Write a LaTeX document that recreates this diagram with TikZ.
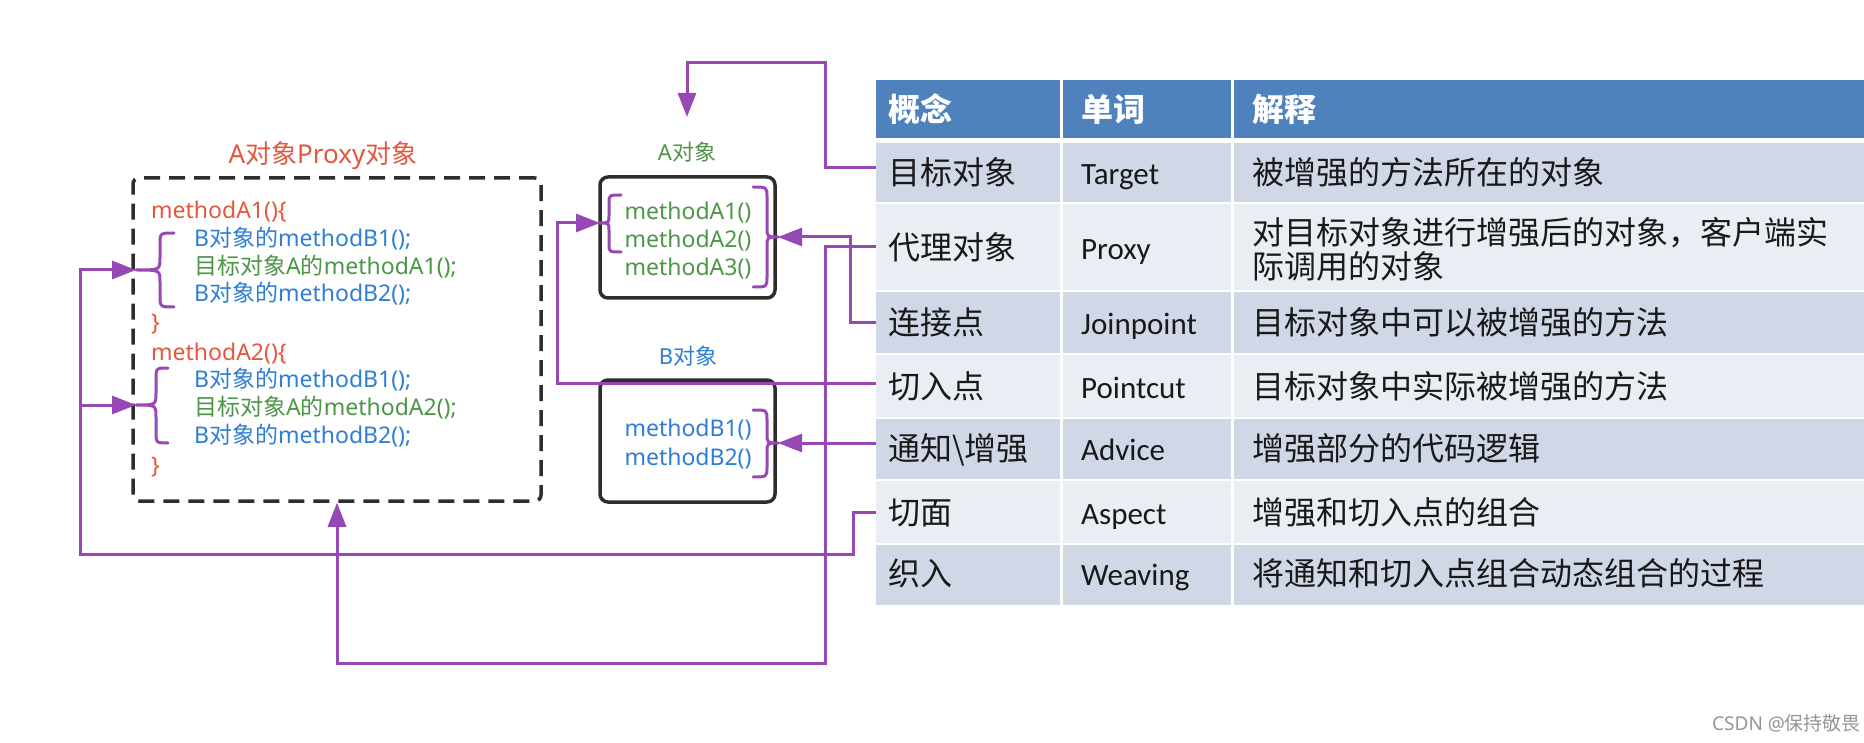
\documentclass[tikz,border=0pt]{standalone}
\usepackage{fontspec}
\setmainfont{Noto Sans}
\newfontfamily\cjk{Noto Sans CJK SC}
\newfontfamily\calfont{Carlito}
\newcommand{\zh}[1]{{\cjk #1}}
\usetikzlibrary{arrows.meta,calc}
\definecolor{pur}{RGB}{152,72,180}
\definecolor{cred}{RGB}{226,88,62}
\definecolor{cblue}{RGB}{46,125,214}
\definecolor{cgreen}{RGB}{76,150,70}
\definecolor{hblue}{RGB}{79,129,189}
\definecolor{rdark}{RGB}{208,216,232}
\definecolor{rlight}{RGB}{233,237,244}
\definecolor{boxgray}{RGB}{45,45,45}
\definecolor{txt}{RGB}{25,25,25}
\definecolor{wmgray}{RGB}{150,150,150}
\begin{document}
\begin{tikzpicture}[x=1pt,y=-1pt,
  conn/.style={draw=pur, line width=3pt, line join=miter},
  tip/.style={-{Triangle[length=24pt,width=18pt]}},
  pbrace/.style={draw=pur, line width=3pt, line cap=round, line join=round},
  cellbox/.style={rectangle, inner sep=0pt, outer sep=0pt, draw=none},
  code/.style={anchor=base west, inner sep=0pt, font=\fontsize{23}{27}\selectfont},
  meth/.style={anchor=base, inner sep=0pt, font=\fontsize{23}{27}\selectfont},
  zhcell/.style={anchor=base west, inner sep=0pt, text=txt, font=\cjk\fontsize{32}{36}\selectfont},
  encell/.style={anchor=base west, inner sep=0pt, text=txt, font=\calfont\fontsize{31}{36}\selectfont},
  hcell/.style={anchor=base west, inner sep=0pt, text=white, font=\cjk\bfseries\fontsize{32}{36}\selectfont},
  objbox/.style={draw=boxgray, line width=3.5pt, rounded corners=8pt, rectangle, inner sep=0pt},
]
\fill[white] (0,0) rectangle (1864,743);
\useasboundingbox (0,0) rectangle (1864,743);

% ---------- table ----------
\node[cellbox, fill=hblue, minimum width=184pt, minimum height=58pt] (h1) at (968,109) {};
\node[cellbox, fill=hblue, minimum width=168pt, minimum height=58pt] (h2) at (1147,109) {};
\node[cellbox, fill=hblue, minimum width=630pt, minimum height=58pt] (h3) at (1549,109) {};
\foreach \r/\yc/\h/\col in {1/172.5/59/rdark, 2/247/86/rlight, 3/322.5/61/rdark, 4/386/62/rlight, 5/449/60/rdark, 6/512/62/rlight, 7/575/60/rdark}{
  \node[cellbox, fill=\col, minimum width=184pt, minimum height=\h pt] (k\r) at (968,\yc) {};
  \node[cellbox, fill=\col, minimum width=168pt, minimum height=\h pt] (w\r) at (1147,\yc) {};
  \node[cellbox, fill=\col, minimum width=630pt, minimum height=\h pt] (d\r) at (1549,\yc) {};
}
\node[hcell] (th1) at (888,122) {概念};
\node[hcell] (th2) at (1081,122) {单词};
\node[hcell] (th3) at (1252,122) {解释};

\node[zhcell] (t1a) at (888,185) {目标对象};
\node[encell] (t1b) at (1081,185) {Target};
\node[zhcell] (t1c) at (1252,185) {被增强的方法所在的对象};

\node[zhcell] (t2a) at (888,260) {代理对象};
\node[encell] (t2b) at (1081,260) {Proxy};
\node[zhcell] (t2c) at (1252,245) {对目标对象进行增强后的对象，客户端实};
\node[zhcell] (t2d) at (1252,279) {际调用的对象};

\node[zhcell] (t3a) at (888,335) {连接点};
\node[encell] (t3b) at (1081,335) {Joinpoint};
\node[zhcell] (t3c) at (1252,335) {目标对象中可以被增强的方法};

\node[zhcell] (t4a) at (888,399) {切入点};
\node[encell] (t4b) at (1081,399) {Pointcut};
\node[zhcell] (t4c) at (1252,399) {目标对象中实际被增强的方法};

\node[zhcell] (t5a) at (888,460) {通知\textbackslash 增强};
\node[encell] (t5b) at (1081,460) {Advice};
\node[zhcell] (t5c) at (1252,460) {增强部分的代码逻辑};

\node[zhcell] (t6a) at (888,524) {切面};
\node[encell] (t6b) at (1081,524) {Aspect};
\node[zhcell] (t6c) at (1252,524) {增强和切入点的组合};

\node[zhcell] (t7a) at (888,585) {织入};
\node[encell] (t7b) at (1081,585) {Weaving};
\node[zhcell] (t7c) at (1252,585) {将通知和切入点组合动态组合的过程};

% ---------- proxy object ----------
\node[draw=boxgray, line width=3.5pt, dash pattern=on 16pt off 9pt, rounded corners=6pt,
      minimum width=408pt, minimum height=323pt, inner sep=0pt] (proxy) at (337,339.5) {};
\node[anchor=base, inner sep=0pt, text=cred, font=\fontsize{26}{30}\selectfont] (ptitle) at (323,164) {A\zh{对象}Proxy\zh{对象}};

\node[code, text=cred] (l1) at (151,219) {methodA1()\{};
\node[code, text=cblue] (l2) at (194,247) {B\zh{对象的}methodB1();};
\node[code, text=cgreen] (l3) at (194,275) {\zh{目标对象}A\zh{的}methodA1();};
\node[code, text=cblue] (l4) at (194,302) {B\zh{对象的}methodB2();};
\node[code, text=cred] (l5) at (151,331) {\}};
\node[code, text=cred] (l6) at (151,360) {methodA2()\{};
\node[code, text=cblue] (l7) at (194,388) {B\zh{对象的}methodB1();};
\node[code, text=cgreen] (l8) at (194,415) {\zh{目标对象}A\zh{的}methodA2();};
\node[code, text=cblue] (l9) at (194,443) {B\zh{对象的}methodB2();};
\node[code, text=cred] (l10) at (151,473) {\}};

\draw[pbrace] (174,233) .. controls (160,233) .. (160,245) -- (160,258) .. controls (160,270) .. (136,270) .. controls (160,270) .. (160,282) -- (160,295) .. controls (160,307) .. (174,307);
\draw[pbrace] (168,368) .. controls (156,368) .. (156,380) -- (156,393) .. controls (156,405) .. (136,405) .. controls (156,405) .. (156,417) -- (156,431) .. controls (156,443) .. (168,443);

% ---------- A and B objects ----------
\node[objbox, minimum width=175pt, minimum height=121pt] (abox) at (687.5,237.5) {};
\node[objbox, minimum width=175pt, minimum height=122pt] (bbox) at (687.5,441) {};
\node[anchor=base, inner sep=0pt, text=cgreen, font=\fontsize{22}{26}\selectfont] (alabel) at (687,161) {A\zh{对象}};
\node[anchor=base, inner sep=0pt, text=cblue, font=\fontsize{22}{26}\selectfont] (blabel) at (688,365) {B\zh{对象}};

\node[meth, text=cgreen] (ma1) at (688,220) {methodA1()};
\node[meth, text=cgreen] (ma2) at (688,248) {methodA2()};
\node[meth, text=cgreen] (ma3) at (688,276) {methodA3()};
\node[meth, text=cblue] (mb1) at (688,436) {methodB1()};
\node[meth, text=cblue] (mb2) at (688,465) {methodB2()};

\draw[pbrace] (621,195) .. controls (609,195) .. (609,203) -- (609,215) .. controls (609,223) .. (600,223) .. controls (609,223) .. (609,231) -- (609,244) .. controls (609,252) .. (621,252);
\draw[pbrace] (753,187) .. controls (767,187) .. (767,197) -- (767,227) .. controls (767,237) .. (778,237) .. controls (767,237) .. (767,247) -- (767,277) .. controls (767,287) .. (753,287);
\draw[pbrace] (753,410) .. controls (767,410) .. (767,420) -- (767,433) .. controls (767,443) .. (778,443) .. controls (767,443) .. (767,453) -- (767,467) .. controls (767,477) .. (753,477);

% brace tips
\coordinate (pb1) at (136,270);
\coordinate (pb2) at (136,405);
\coordinate (ab1) at (600,223);
\coordinate (ab2) at (778,237);
\coordinate (bb1) at (778,443);

% ---------- connectors ----------
\coordinate (j1) at (825,63);
\coordinate (atgt) at (687,117);
\draw[conn,tip] ([yshift=5pt]k1.west) -| (j1) -| (atgt);

\coordinate (j2) at (825,663);
\draw[conn,tip] (k2.west) -| (j2) -| (proxy.south);

\coordinate (j3) at (850,237);
\draw[conn,tip] (k3.west) -| (j3) -- (ab2);

\coordinate (j4) at (557,223);
\draw[conn,tip] ([yshift=3pt]k4.west) -| (j4) -- (ab1);

\draw[conn,tip] ([yshift=6pt]k5.west) -- (bb1);

\coordinate (j6) at (853,554);
\coordinate (j7) at (80,270);
\draw[conn,tip] (k6.west) -| (j6) -| (j7) -- (pb1);
\draw[conn,tip] (j7 |- pb2) -- (pb2);

% watermark
\node[anchor=base west, inner sep=0pt, text=wmgray, font=\fontsize{19}{22}\selectfont] (wm) at (1712,730) {CSDN @\zh{保持敬畏}};
\end{tikzpicture}
\end{document}
